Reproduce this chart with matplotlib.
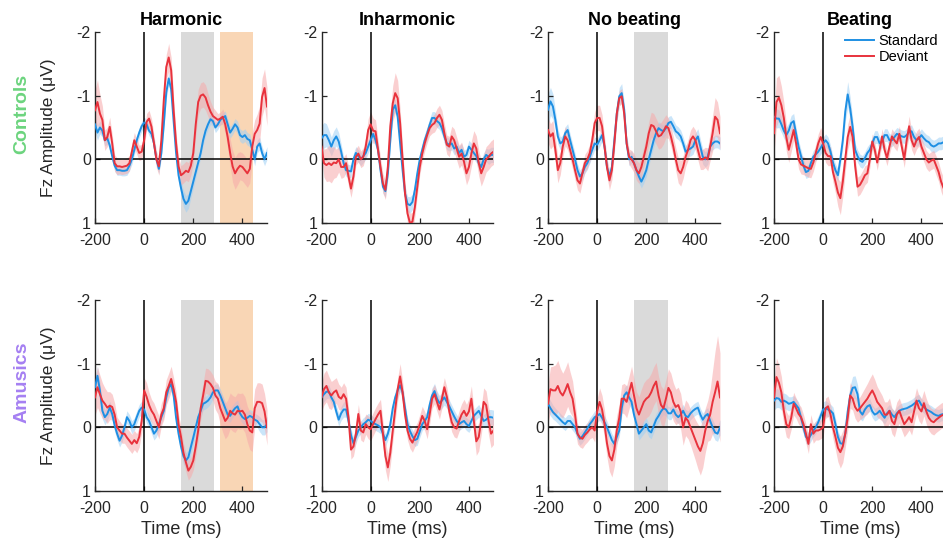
import numpy as np
import matplotlib
matplotlib.use("Agg")
import matplotlib.pyplot as plt

plt.rcParams['font.family'] = ['Liberation Sans', 'DejaVu Sans']
plt.rcParams['axes.unicode_minus'] = False

# time axis (ms), one sample every 10 ms
times = np.arange(-200, 501, 10)

conditions = ['Harmonic', 'Inharmonic', 'No beating', 'Beating']
groups = ['Controls', 'Amusics']
series_labels = ['Standard', 'Deviant']

# analysis windows (ms) per condition
gray_window = {'Harmonic': (150, 285), 'No beating': (150, 290)}
orange_window = {'Harmonic': (310, 445)}

# ---- Controls ----
ch_std = [-0.55, -0.42, -0.50, -0.45, -0.30, -0.33, -0.22, -0.05, 0.10, 0.17,
          0.17, 0.18, 0.18, 0.17, 0.10, 0.00, -0.15, -0.30, -0.42, -0.52,
          -0.58, -0.55, -0.45, -0.40, -0.25, 0.00, 0.15, -0.10, -0.55, -1.05,
          -1.27, -1.10, -0.60, -0.10, 0.25, 0.45, 0.62, 0.70, 0.65, 0.50,
          0.35, 0.20, 0.05, -0.10, -0.30, -0.45, -0.55, -0.63, -0.60, -0.50,
          -0.55, -0.62, -0.65, -0.68, -0.55, -0.42, -0.48, -0.55, -0.50, -0.38,
          -0.35, -0.38, -0.32, -0.30, -0.15, 0.00, -0.20, -0.25, -0.10, 0.00,
          -0.10]
ch_std_sem = [0.12, 0.12, 0.10, 0.10, 0.09, 0.09, 0.08, 0.08, 0.08, 0.08,
              0.08, 0.08, 0.08, 0.08, 0.08, 0.08, 0.08, 0.08, 0.08, 0.08,
              0.08, 0.08, 0.08, 0.08, 0.08, 0.08, 0.08, 0.08, 0.09, 0.10,
              0.10, 0.10, 0.10, 0.10, 0.11, 0.12, 0.13, 0.13, 0.12, 0.11,
              0.10, 0.09, 0.08, 0.08, 0.08, 0.08, 0.08, 0.08, 0.08, 0.08,
              0.08, 0.08, 0.08, 0.08, 0.09, 0.09, 0.09, 0.09, 0.10, 0.10,
              0.10, 0.10, 0.10, 0.10, 0.10, 0.10, 0.10, 0.10, 0.10, 0.10,
              0.10]
ch_dev = [-0.77, -0.90, -0.72, -0.62, -0.30, -0.35, -0.51, -0.25, 0.06, 0.11,
          0.11, 0.12, 0.11, 0.10, 0.06, -0.12, -0.30, -0.20, -0.10, -0.12,
          -0.30, -0.59, -0.64, -0.51, -0.25, 0.00, 0.11, -0.30, -0.93, -1.45,
          -1.60, -1.40, -0.77, -0.25, 0.11, 0.25, 0.22, 0.18, 0.20, 0.10,
          -0.10, -0.55, -0.90, -1.00, -1.02, -0.97, -0.85, -0.75, -0.68, -0.65,
          -0.62, -0.64, -0.67, -0.55, -0.35, -0.10, 0.11, 0.22, 0.15, 0.10,
          0.12, 0.17, 0.22, 0.15, -0.20, -0.40, -0.46, -0.56, -0.98, -1.12,
          -0.83]
ch_dev_sem = [0.32, 0.35, 0.30, 0.22, 0.16, 0.15, 0.15, 0.14, 0.13, 0.13,
              0.12, 0.12, 0.12, 0.12, 0.12, 0.12, 0.12, 0.12, 0.12, 0.12,
              0.12, 0.13, 0.13, 0.13, 0.13, 0.13, 0.14, 0.15, 0.18, 0.20,
              0.22, 0.20, 0.18, 0.16, 0.15, 0.15, 0.15, 0.15, 0.15, 0.15,
              0.16, 0.18, 0.20, 0.20, 0.20, 0.20, 0.18, 0.16, 0.14, 0.12,
              0.10, 0.10, 0.12, 0.15, 0.18, 0.22, 0.25, 0.25, 0.25, 0.22,
              0.22, 0.22, 0.22, 0.22, 0.22, 0.22, 0.25, 0.28, 0.30, 0.30,
              0.30]

ci_std = [-0.33, -0.38, -0.38, -0.30, -0.20, -0.30, -0.36, -0.28, -0.12, 0.06,
          0.17, 0.18, 0.19, 0.00, -0.10, -0.05, 0.00, -0.05, -0.10, -0.20,
          -0.30, -0.40, -0.30, -0.15, 0.17, 0.43, 0.50, 0.22, -0.30, -0.78,
          -0.85, -0.67, -0.25, 0.17, 0.54, 0.70, 0.72, 0.67, 0.48, 0.22,
          0.00, -0.15, -0.30, -0.41, -0.54, -0.65, -0.65, -0.60, -0.57, -0.49,
          -0.36, -0.25, -0.23, -0.25, -0.17, -0.20, -0.10, -0.15, -0.04, -0.07,
          -0.20, -0.15, -0.10, -0.05, 0.06, 0.12, 0.00, -0.07, -0.04, -0.07,
          -0.07]
ci_std_sem = [0.20, 0.20, 0.18, 0.16, 0.15, 0.15, 0.15, 0.14, 0.12, 0.10,
              0.10, 0.10, 0.10, 0.10, 0.10, 0.10, 0.10, 0.10, 0.10, 0.10,
              0.10, 0.10, 0.10, 0.10, 0.10, 0.10, 0.10, 0.10, 0.10, 0.10,
              0.10, 0.10, 0.10, 0.10, 0.11, 0.12, 0.13, 0.12, 0.11, 0.10,
              0.10, 0.10, 0.10, 0.10, 0.10, 0.10, 0.10, 0.10, 0.10, 0.10,
              0.10, 0.10, 0.10, 0.10, 0.10, 0.10, 0.10, 0.10, 0.10, 0.10,
              0.10, 0.10, 0.10, 0.10, 0.10, 0.10, 0.10, 0.10, 0.12, 0.12,
              0.12]
ci_dev = [-0.20, 0.06, 0.09, 0.06, 0.09, 0.05, 0.06, 0.00, 0.12, 0.12,
          0.06, 0.27, 0.46, 0.27, -0.04, -0.09, 0.00, -0.04, -0.20, -0.46,
          -0.55, -0.45, -0.44, -0.15, 0.12, 0.38, 0.48, 0.12, -0.52, -0.88,
          -1.04, -0.96, -0.57, 0.00, 0.54, 0.85, 1.00, 0.98, 0.75, 0.43,
          0.12, -0.09, -0.25, -0.38, -0.49, -0.54, -0.57, -0.65, -0.70, -0.62,
          -0.41, -0.23, -0.20, -0.36, -0.30, -0.17, -0.04, -0.09, 0.04, 0.22,
          0.12, -0.09, -0.25, -0.17, 0.06, 0.22, 0.12, 0.00, -0.04, -0.09,
          -0.12]
ci_dev_sem = [0.15, 0.22, 0.26, 0.28, 0.28, 0.25, 0.22, 0.20, 0.18, 0.16,
              0.15, 0.15, 0.14, 0.13, 0.13, 0.13, 0.13, 0.14, 0.15, 0.18,
              0.20, 0.20, 0.18, 0.16, 0.15, 0.15, 0.15, 0.16, 0.20, 0.28,
              0.32, 0.28, 0.22, 0.18, 0.16, 0.15, 0.15, 0.15, 0.15, 0.14,
              0.12, 0.12, 0.12, 0.12, 0.12, 0.13, 0.14, 0.15, 0.15, 0.15,
              0.15, 0.15, 0.16, 0.16, 0.18, 0.18, 0.18, 0.18, 0.18, 0.18,
              0.18, 0.20, 0.20, 0.20, 0.20, 0.20, 0.20, 0.20, 0.20, 0.20,
              0.20]

cn_std = [-0.78, -0.91, -0.83, -0.62, -0.36, -0.25, -0.28, -0.41, -0.46, -0.30,
          -0.15, 0.00, 0.17, 0.27, 0.22, 0.12, 0.06, -0.04, -0.15, -0.25,
          -0.23, -0.30, -0.38, -0.20, 0.12, 0.27, 0.12, -0.30, -0.72, -0.99,
          -1.04, -0.78, -0.25, 0.00, -0.04, 0.06, 0.17, 0.27, 0.35, 0.27,
          0.17, 0.00, -0.15, -0.30, -0.41, -0.49, -0.46, -0.44, -0.49, -0.57,
          -0.59, -0.52, -0.44, -0.41, -0.36, -0.25, -0.12, -0.15, -0.17, -0.20,
          -0.30, -0.36, -0.20, -0.04, 0.00, -0.04, -0.20, -0.25, -0.28, -0.28,
          -0.25]
cn_std_sem = [0.25, 0.22, 0.20, 0.15, 0.12, 0.10, 0.10, 0.10, 0.10, 0.10,
              0.10, 0.10, 0.10, 0.10, 0.10, 0.10, 0.10, 0.10, 0.10, 0.10,
              0.10, 0.10, 0.10, 0.10, 0.10, 0.10, 0.10, 0.10, 0.12, 0.14,
              0.15, 0.12, 0.10, 0.10, 0.10, 0.10, 0.10, 0.10, 0.10, 0.10,
              0.10, 0.10, 0.10, 0.10, 0.10, 0.10, 0.10, 0.10, 0.10, 0.10,
              0.10, 0.10, 0.10, 0.10, 0.10, 0.10, 0.10, 0.10, 0.12, 0.12,
              0.12, 0.12, 0.12, 0.12, 0.12, 0.12, 0.10, 0.10, 0.10, 0.10,
              0.10]
cn_dev = [-0.46, -0.36, -0.41, -0.15, 0.17, 0.06, -0.20, -0.36, -0.30, -0.15,
          0.00, 0.17, 0.33, 0.38, 0.22, 0.06, 0.00, -0.10, -0.30, -0.57,
          -0.65, -0.65, -0.52, -0.20, 0.12, 0.33, 0.17, -0.25, -0.72, -0.96,
          -0.99, -0.72, -0.25, -0.04, 0.00, 0.06, 0.17, 0.22, 0.12, -0.04,
          -0.20, -0.41, -0.54, -0.52, -0.44, -0.36, -0.38, -0.44, -0.52, -0.49,
          -0.36, -0.20, 0.00, 0.17, 0.22, 0.12, -0.04, -0.15, -0.30, -0.36,
          -0.30, -0.15, 0.00, 0.00, -0.03, 0.00, -0.20, -0.41, -0.67, -0.62,
          -0.41]
cn_dev_sem = [0.20, 0.20, 0.20, 0.20, 0.20, 0.18, 0.16, 0.15, 0.15, 0.15,
              0.15, 0.15, 0.15, 0.15, 0.14, 0.14, 0.14, 0.14, 0.16, 0.18,
              0.20, 0.20, 0.18, 0.16, 0.15, 0.15, 0.15, 0.15, 0.14, 0.12,
              0.12, 0.12, 0.12, 0.12, 0.14, 0.15, 0.16, 0.16, 0.16, 0.16,
              0.16, 0.18, 0.20, 0.20, 0.20, 0.20, 0.20, 0.20, 0.18, 0.16,
              0.16, 0.16, 0.18, 0.20, 0.20, 0.18, 0.16, 0.16, 0.16, 0.16,
              0.16, 0.16, 0.16, 0.16, 0.16, 0.18, 0.22, 0.28, 0.30, 0.28,
              0.26]

cb_std = [-0.67, -0.64, -0.64, -0.55, -0.45, -0.38, -0.45, -0.57, -0.60, -0.40,
          -0.20, -0.05, 0.10, 0.20, 0.18, 0.06, -0.04, -0.08, -0.12, -0.18,
          -0.25, -0.30, -0.25, -0.12, 0.05, 0.17, 0.25, 0.00, -0.30, -0.75,
          -1.02, -0.80, -0.51, -0.15, -0.05, 0.02, 0.04, -0.02, -0.10, -0.15,
          -0.25, -0.35, -0.35, -0.25, -0.28, -0.38, -0.38, -0.30, -0.30, -0.35,
          -0.40, -0.38, -0.36, -0.35, -0.38, -0.43, -0.44, -0.35, -0.30, -0.33,
          -0.38, -0.33, -0.29, -0.27, -0.22, -0.20, -0.22, -0.25, -0.25, -0.27,
          -0.30]
cb_std_sem = [0.15, 0.15, 0.14, 0.13, 0.12, 0.12, 0.12, 0.12, 0.12, 0.10,
              0.10, 0.10, 0.10, 0.10, 0.10, 0.10, 0.10, 0.10, 0.10, 0.10,
              0.10, 0.10, 0.10, 0.10, 0.10, 0.10, 0.10, 0.10, 0.12, 0.16,
              0.20, 0.18, 0.14, 0.10, 0.10, 0.10, 0.10, 0.10, 0.10, 0.10,
              0.10, 0.10, 0.10, 0.10, 0.10, 0.10, 0.10, 0.10, 0.10, 0.10,
              0.10, 0.10, 0.10, 0.10, 0.10, 0.10, 0.10, 0.10, 0.10, 0.10,
              0.10, 0.10, 0.10, 0.10, 0.10, 0.10, 0.10, 0.10, 0.10, 0.10,
              0.10]
cb_dev = [-0.41, -0.90, -0.97, -0.85, -0.65, -0.35, -0.15, -0.30, -0.46, -0.25,
          0.00, 0.08, 0.10, 0.12, 0.14, 0.15, 0.05, -0.10, -0.25, -0.35,
          -0.25, -0.10, -0.05, -0.05, 0.20, 0.35, 0.52, 0.61, 0.35, 0.00,
          -0.35, -0.51, -0.35, 0.10, 0.43, 0.40, 0.33, 0.25, 0.22, 0.00,
          -0.28, -0.15, 0.05, -0.15, -0.36, -0.15, -0.02, -0.20, -0.36, -0.30,
          -0.25, -0.40, -0.20, 0.00, -0.30, -0.52, -0.30, -0.20, -0.30, -0.35,
          -0.20, -0.10, 0.00, 0.05, 0.02, 0.00, 0.10, 0.20, 0.35, 0.45,
          0.50]
cb_dev_sem = [0.30, 0.38, 0.35, 0.30, 0.25, 0.22, 0.20, 0.18, 0.16, 0.15,
              0.15, 0.15, 0.14, 0.14, 0.14, 0.14, 0.14, 0.14, 0.15, 0.15,
              0.15, 0.15, 0.15, 0.15, 0.16, 0.18, 0.22, 0.26, 0.24, 0.20,
              0.20, 0.20, 0.18, 0.16, 0.15, 0.15, 0.15, 0.15, 0.14, 0.13,
              0.12, 0.12, 0.12, 0.12, 0.12, 0.12, 0.12, 0.12, 0.12, 0.12,
              0.12, 0.12, 0.12, 0.13, 0.14, 0.16, 0.15, 0.14, 0.14, 0.14,
              0.14, 0.14, 0.14, 0.14, 0.14, 0.14, 0.15, 0.15, 0.16, 0.16,
              0.16]

# ---- Amusics ----
ah_std = [-0.63, -0.81, -0.58, -0.26, -0.16, -0.21, -0.31, -0.21, -0.03, 0.10,
          0.21, 0.13, 0.00, -0.16, -0.10, 0.00, -0.05, -0.16, -0.26, -0.31,
          -0.28, -0.16, -0.10, 0.00, 0.10, 0.05, -0.05, -0.16, -0.26, -0.47,
          -0.62, -0.68, -0.50, -0.15, 0.10, 0.30, 0.45, 0.52, 0.47, 0.31,
          0.16, 0.00, -0.16, -0.26, -0.37, -0.39, -0.42, -0.47, -0.55, -0.58,
          -0.58, -0.50, -0.40, -0.30, -0.20, -0.18, -0.25, -0.30, -0.33, -0.22,
          -0.16, -0.13, -0.15, -0.18, -0.16, -0.12, -0.10, -0.05, 0.00, 0.00,
          -0.05]
ah_std_sem = [0.15, 0.15, 0.14, 0.13, 0.12, 0.11, 0.10, 0.10, 0.10, 0.10,
              0.10, 0.10, 0.10, 0.10, 0.10, 0.10, 0.10, 0.10, 0.10, 0.10,
              0.10, 0.10, 0.10, 0.10, 0.10, 0.10, 0.10, 0.10, 0.10, 0.10,
              0.10, 0.10, 0.10, 0.10, 0.10, 0.12, 0.12, 0.12, 0.12, 0.12,
              0.10, 0.10, 0.10, 0.10, 0.10, 0.10, 0.10, 0.10, 0.10, 0.10,
              0.10, 0.10, 0.10, 0.10, 0.10, 0.10, 0.10, 0.10, 0.10, 0.10,
              0.10, 0.10, 0.10, 0.10, 0.10, 0.10, 0.10, 0.12, 0.12, 0.12,
              0.12]
ah_dev = [-0.47, -0.63, -0.52, -0.42, -0.37, -0.31, -0.34, -0.32, -0.20, 0.00,
          0.05, 0.10, 0.10, 0.16, 0.21, 0.26, 0.20, 0.25, 0.15, -0.10,
          -0.58, -0.48, -0.35, -0.26, -0.20, -0.10, 0.00, -0.20, -0.30, -0.55,
          -0.65, -0.76, -0.60, -0.40, -0.05, 0.15, 0.40, 0.55, 0.68, 0.62,
          0.52, 0.30, 0.05, -0.30, -0.50, -0.73, -0.72, -0.68, -0.62, -0.50,
          -0.45, -0.30, -0.20, -0.10, -0.15, -0.26, -0.22, -0.20, -0.26, -0.25,
          -0.26, -0.20, -0.05, 0.05, 0.08, -0.30, -0.40, -0.40, -0.38, -0.25,
          0.00]
ah_dev_sem = [0.28, 0.32, 0.30, 0.28, 0.25, 0.25, 0.22, 0.20, 0.18, 0.16,
              0.15, 0.15, 0.15, 0.15, 0.15, 0.15, 0.15, 0.15, 0.16, 0.18,
              0.20, 0.22, 0.20, 0.18, 0.18, 0.18, 0.18, 0.18, 0.18, 0.20,
              0.20, 0.20, 0.18, 0.16, 0.15, 0.15, 0.15, 0.15, 0.15, 0.15,
              0.15, 0.15, 0.16, 0.18, 0.20, 0.20, 0.20, 0.20, 0.20, 0.22,
              0.24, 0.26, 0.28, 0.28, 0.28, 0.28, 0.28, 0.28, 0.28, 0.28,
              0.28, 0.28, 0.28, 0.30, 0.30, 0.30, 0.30, 0.30, 0.30, 0.28,
              0.28]

ai_std = [-0.47, -0.52, -0.56, -0.56, -0.47, -0.40, -0.25, -0.12, -0.22, -0.28,
          -0.28, -0.10, 0.12, 0.25, 0.15, 0.05, 0.00, -0.05, -0.08, -0.12,
          -0.10, -0.07, -0.05, -0.03, 0.00, 0.10, 0.20, 0.10, -0.05, -0.30,
          -0.47, -0.58, -0.66, -0.55, -0.30, -0.05, 0.06, 0.14, 0.20, 0.18,
          0.06, -0.05, -0.10, -0.16, -0.35, -0.50, -0.57, -0.45, -0.38, -0.42,
          -0.47, -0.40, -0.33, -0.25, -0.17, -0.10, -0.05, -0.08, -0.10, -0.05,
          -0.02, -0.10, -0.18, -0.22, -0.26, -0.18, -0.10, -0.12, -0.16, -0.16,
          -0.15]
ai_std_sem = [0.12, 0.12, 0.11, 0.10, 0.10, 0.10, 0.10, 0.10, 0.11, 0.12,
              0.12, 0.11, 0.10, 0.10, 0.10, 0.10, 0.10, 0.10, 0.10, 0.10,
              0.10, 0.10, 0.10, 0.10, 0.10, 0.10, 0.10, 0.10, 0.10, 0.10,
              0.10, 0.10, 0.10, 0.10, 0.10, 0.10, 0.10, 0.10, 0.10, 0.10,
              0.10, 0.10, 0.10, 0.10, 0.10, 0.12, 0.12, 0.12, 0.12, 0.12,
              0.12, 0.10, 0.10, 0.10, 0.10, 0.10, 0.10, 0.10, 0.10, 0.10,
              0.10, 0.10, 0.10, 0.10, 0.10, 0.10, 0.10, 0.11, 0.12, 0.12,
              0.12]
ai_dev = [-0.47, -0.60, -0.65, -0.55, -0.50, -0.55, -0.58, -0.48, -0.45, -0.52,
          -0.45, -0.15, 0.35, 0.30, 0.10, -0.21, 0.05, 0.08, -0.05, 0.00,
          0.03, -0.05, -0.13, -0.20, -0.26, 0.10, 0.45, 0.63, 0.40, 0.05,
          -0.28, -0.60, -0.80, -0.55, -0.20, 0.05, 0.18, 0.24, 0.15, 0.07,
          -0.05, -0.18, -0.10, 0.03, -0.20, -0.45, -0.52, -0.40, -0.28, -0.45,
          -0.63, -0.48, -0.25, -0.08, 0.00, 0.02, -0.10, -0.20, -0.26, -0.18,
          -0.25, -0.45, -0.10, 0.22, 0.15, -0.10, -0.40, -0.35, -0.10, 0.10,
          0.05]
ai_dev_sem = [0.22, 0.25, 0.25, 0.25, 0.22, 0.20, 0.20, 0.20, 0.18, 0.18,
              0.18, 0.16, 0.15, 0.15, 0.15, 0.15, 0.15, 0.15, 0.16, 0.18,
              0.18, 0.18, 0.18, 0.18, 0.18, 0.20, 0.22, 0.22, 0.20, 0.18,
              0.18, 0.18, 0.20, 0.18, 0.16, 0.15, 0.15, 0.15, 0.15, 0.15,
              0.15, 0.15, 0.15, 0.15, 0.15, 0.15, 0.15, 0.15, 0.15, 0.15,
              0.15, 0.15, 0.15, 0.15, 0.15, 0.15, 0.16, 0.17, 0.18, 0.18,
              0.20, 0.20, 0.20, 0.22, 0.22, 0.22, 0.22, 0.22, 0.22, 0.22,
              0.22]

an_std = [-0.37, -0.30, -0.24, -0.20, -0.16, -0.12, -0.08, -0.05, -0.10, -0.10,
          -0.05, 0.00, 0.10, 0.18, 0.14, 0.08, 0.02, -0.05, -0.10, -0.16,
          -0.18, -0.21, -0.15, -0.08, 0.00, 0.10, 0.20, 0.26, 0.15, 0.05,
          -0.30, -0.50, -0.55, -0.47, -0.40, -0.20, -0.05, 0.10, 0.05, 0.00,
          -0.05, 0.05, 0.08, -0.02, -0.12, -0.18, -0.25, -0.30, -0.28, -0.22,
          -0.22, -0.28, -0.20, -0.16, -0.20, -0.26, -0.18, -0.16, -0.22, -0.26,
          -0.29, -0.31, -0.20, -0.12, -0.18, -0.21, -0.10, 0.00, 0.08, 0.10,
          0.00]
an_std_sem = [0.12, 0.12, 0.11, 0.10, 0.10, 0.10, 0.10, 0.10, 0.10, 0.10,
              0.10, 0.10, 0.10, 0.10, 0.10, 0.10, 0.10, 0.10, 0.10, 0.10,
              0.10, 0.10, 0.10, 0.10, 0.10, 0.10, 0.10, 0.10, 0.10, 0.10,
              0.12, 0.12, 0.12, 0.12, 0.12, 0.10, 0.10, 0.10, 0.10, 0.10,
              0.10, 0.10, 0.10, 0.10, 0.10, 0.10, 0.10, 0.10, 0.10, 0.10,
              0.10, 0.10, 0.10, 0.10, 0.10, 0.10, 0.10, 0.10, 0.10, 0.10,
              0.10, 0.10, 0.10, 0.10, 0.10, 0.10, 0.10, 0.12, 0.12, 0.12,
              0.12]
an_dev = [-0.37, -0.60, -0.58, -0.58, -0.65, -0.55, -0.50, -0.58, -0.68, -0.55,
          -0.45, -0.20, 0.10, 0.16, 0.18, 0.12, 0.08, 0.03, 0.00, 0.05,
          -0.25, -0.40, -0.28, -0.05, 0.25, 0.45, 0.52, 0.35, 0.05, -0.15,
          -0.45, -0.45, -0.40, -0.55, -0.70, -0.50, -0.30, -0.20, -0.30, -0.40,
          -0.45, -0.48, -0.55, -0.65, -0.72, -0.50, -0.35, -0.30, -0.45, -0.62,
          -0.55, -0.40, -0.32, -0.35, -0.25, 0.00, -0.15, -0.10, 0.00, 0.10,
          0.20, 0.30, 0.37, 0.25, 0.05, -0.10, -0.20, -0.40, -0.55, -0.72,
          -0.47]
an_dev_sem = [0.30, 0.35, 0.38, 0.40, 0.40, 0.38, 0.35, 0.35, 0.35, 0.32,
              0.28, 0.22, 0.16, 0.15, 0.15, 0.15, 0.15, 0.15, 0.16, 0.18,
              0.20, 0.22, 0.22, 0.22, 0.22, 0.24, 0.26, 0.26, 0.24, 0.22,
              0.22, 0.24, 0.25, 0.26, 0.26, 0.26, 0.26, 0.28, 0.30, 0.30,
              0.30, 0.30, 0.30, 0.30, 0.30, 0.30, 0.30, 0.30, 0.30, 0.30,
              0.30, 0.30, 0.28, 0.28, 0.28, 0.28, 0.28, 0.28, 0.28, 0.30,
              0.32, 0.35, 0.38, 0.38, 0.35, 0.32, 0.40, 0.50, 0.65, 0.72,
              0.70]

ab_std = [-0.42, -0.46, -0.45, -0.40, -0.42, -0.40, -0.37, -0.38, -0.40, -0.35,
          -0.30, -0.15, 0.00, 0.15, 0.18, 0.12, 0.05, 0.00, -0.08, -0.18,
          -0.28, -0.30, -0.28, -0.26, -0.22, -0.05, 0.15, 0.25, 0.26, 0.10,
          -0.25, -0.50, -0.62, -0.63, -0.52, -0.25, -0.20, -0.28, -0.33, -0.35,
          -0.25, -0.20, -0.22, -0.26, -0.20, -0.15, -0.22, -0.26, -0.20, -0.16,
          -0.22, -0.26, -0.28, -0.29, -0.30, -0.32, -0.34, -0.37, -0.40, -0.42,
          -0.35, -0.32, -0.28, -0.26, -0.24, -0.21, -0.19, -0.18, -0.20, -0.21,
          -0.22]
ab_std_sem = [0.15, 0.15, 0.14, 0.13, 0.12, 0.12, 0.11, 0.10, 0.10, 0.10,
              0.10, 0.10, 0.10, 0.10, 0.10, 0.10, 0.10, 0.10, 0.10, 0.10,
              0.12, 0.12, 0.11, 0.10, 0.10, 0.10, 0.10, 0.10, 0.10, 0.12,
              0.14, 0.16, 0.18, 0.18, 0.15, 0.12, 0.10, 0.10, 0.10, 0.10,
              0.10, 0.10, 0.10, 0.10, 0.10, 0.10, 0.10, 0.10, 0.10, 0.10,
              0.10, 0.10, 0.10, 0.10, 0.10, 0.10, 0.10, 0.10, 0.10, 0.10,
              0.10, 0.10, 0.10, 0.10, 0.10, 0.10, 0.10, 0.10, 0.10, 0.10,
              0.10]
ab_dev = [-0.47, -0.79, -0.70, -0.55, -0.26, -0.05, 0.00, -0.15, -0.37, -0.30,
          -0.21, -0.16, -0.05, 0.10, 0.26, -0.05, 0.10, 0.05, 0.05, 0.03,
          0.00, -0.30, -0.33, -0.20, 0.00, 0.15, 0.32, 0.39, 0.30, 0.10,
          -0.15, -0.50, -0.45, -0.32, -0.26, -0.30, -0.35, -0.40, -0.45, -0.52,
          -0.58, -0.50, -0.40, -0.35, -0.30, -0.20, -0.20, -0.26, -0.10, -0.05,
          -0.20, -0.26, -0.15, -0.05, -0.10, -0.16, -0.08, -0.25, -0.42, -0.30,
          -0.25, -0.38, -0.25, -0.15, -0.10, -0.08, -0.12, -0.15, -0.18, -0.20,
          -0.22]
ab_dev_sem = [0.25, 0.30, 0.28, 0.25, 0.22, 0.20, 0.18, 0.18, 0.18, 0.16,
              0.16, 0.16, 0.15, 0.15, 0.15, 0.15, 0.15, 0.15, 0.15, 0.15,
              0.15, 0.16, 0.16, 0.16, 0.18, 0.20, 0.22, 0.25, 0.25, 0.22,
              0.20, 0.20, 0.18, 0.18, 0.18, 0.18, 0.20, 0.22, 0.24, 0.25,
              0.26, 0.25, 0.24, 0.22, 0.20, 0.20, 0.20, 0.20, 0.20, 0.20,
              0.20, 0.20, 0.20, 0.20, 0.20, 0.20, 0.20, 0.20, 0.20, 0.20,
              0.20, 0.20, 0.20, 0.20, 0.20, 0.20, 0.20, 0.20, 0.20, 0.20,
              0.20]

panels = {
    ('Controls', 'Harmonic'): (ch_std, ch_std_sem, ch_dev, ch_dev_sem),
    ('Controls', 'Inharmonic'): (ci_std, ci_std_sem, ci_dev, ci_dev_sem),
    ('Controls', 'No beating'): (cn_std, cn_std_sem, cn_dev, cn_dev_sem),
    ('Controls', 'Beating'): (cb_std, cb_std_sem, cb_dev, cb_dev_sem),
    ('Amusics', 'Harmonic'): (ah_std, ah_std_sem, ah_dev, ah_dev_sem),
    ('Amusics', 'Inharmonic'): (ai_std, ai_std_sem, ai_dev, ai_dev_sem),
    ('Amusics', 'No beating'): (an_std, an_std_sem, an_dev, an_dev_sem),
    ('Amusics', 'Beating'): (ab_std, ab_std_sem, ab_dev, ab_dev_sem),
}

blue = '#1e8fe3'
red = '#e8323c'
blue_fill = '#9fd0f5'
red_fill = '#f7a9aa'
axis_col = '#262626'
group_colors = {'Controls': '#6cd47e', 'Amusics': '#a580f2'}

W, H = 943, 544
fig = plt.figure(figsize=(W / 100, H / 100), dpi=100)

col_left = [95, 321.5, 548, 774]
row_top = [32, 300]
ax_w, ax_h = 172, 191

for r, group in enumerate(groups):
    for c, cond in enumerate(conditions):
        ax = fig.add_axes([col_left[c] / W, 1 - (row_top[r] + ax_h) / H,
                           ax_w / W, ax_h / H])
        std, std_sem, dev, dev_sem = [np.asarray(a) for a in panels[(group, cond)]]

        if cond in gray_window:
            ax.axvspan(*gray_window[cond], color='#dadada', lw=0, zorder=0)
        if cond in orange_window:
            ax.axvspan(*orange_window[cond], color='#f9d6b5', lw=0, zorder=0)

        ax.fill_between(times, std - std_sem, std + std_sem, color=blue_fill,
                        alpha=0.55, lw=0, zorder=1)
        ax.fill_between(times, dev - dev_sem, dev + dev_sem, color=red_fill,
                        alpha=0.55, lw=0, zorder=1)
        ax.axhline(0, color='black', lw=1.1, zorder=2)
        ax.axvline(0, color='black', lw=1.1, zorder=2)
        ax.plot(times, std, color=blue, lw=1.4, zorder=3, label=series_labels[0])
        ax.plot(times, dev, color=red, lw=1.4, zorder=4, label=series_labels[1])

        ax.set_xlim(-200, 500)
        ax.set_ylim(1, -2)
        ax.set_xticks([-200, 0, 200, 400])
        ax.set_yticks([-2, -1, 0, 1])
        for side in ['top', 'right']:
            ax.spines[side].set_visible(False)
        for side in ['left', 'bottom']:
            ax.spines[side].set_color(axis_col)
            ax.spines[side].set_linewidth(1.0)
        ax.tick_params(direction='in', length=3.5, width=0.9, colors=axis_col,
                       labelsize=11.5)
        ax.tick_params(axis='x', pad=7)
        ax.tick_params(axis='y', pad=3)

        if r == 0:
            ax.set_title(cond, fontsize=13, fontweight='bold', pad=5)
        if r == 1:
            ax.set_xlabel('Time (ms)', fontsize=13, color=axis_col, labelpad=4)
        if c == 0:
            ax.set_ylabel('Fz Amplitude (μV)', fontsize=12.5, color=axis_col)
            ax.yaxis.set_label_coords(-0.225, 0.5)
        if r == 0 and c == 3:
            ax.legend(loc='upper right', bbox_to_anchor=(938 / W, 1 - 34 / H),
                      bbox_transform=fig.transFigure, frameon=False,
                      fontsize=10.5, handlelength=2.0, handletextpad=0.3,
                      labelspacing=0.15, borderpad=0, borderaxespad=0)

for r, group in enumerate(groups):
    fig.text(22 / W, 1 - (row_top[r] + 82) / H, group, rotation=90,
             ha='center', va='center', fontsize=14, fontweight='bold',
             color=group_colors[group])

fig.savefig('out.png', dpi=100)
